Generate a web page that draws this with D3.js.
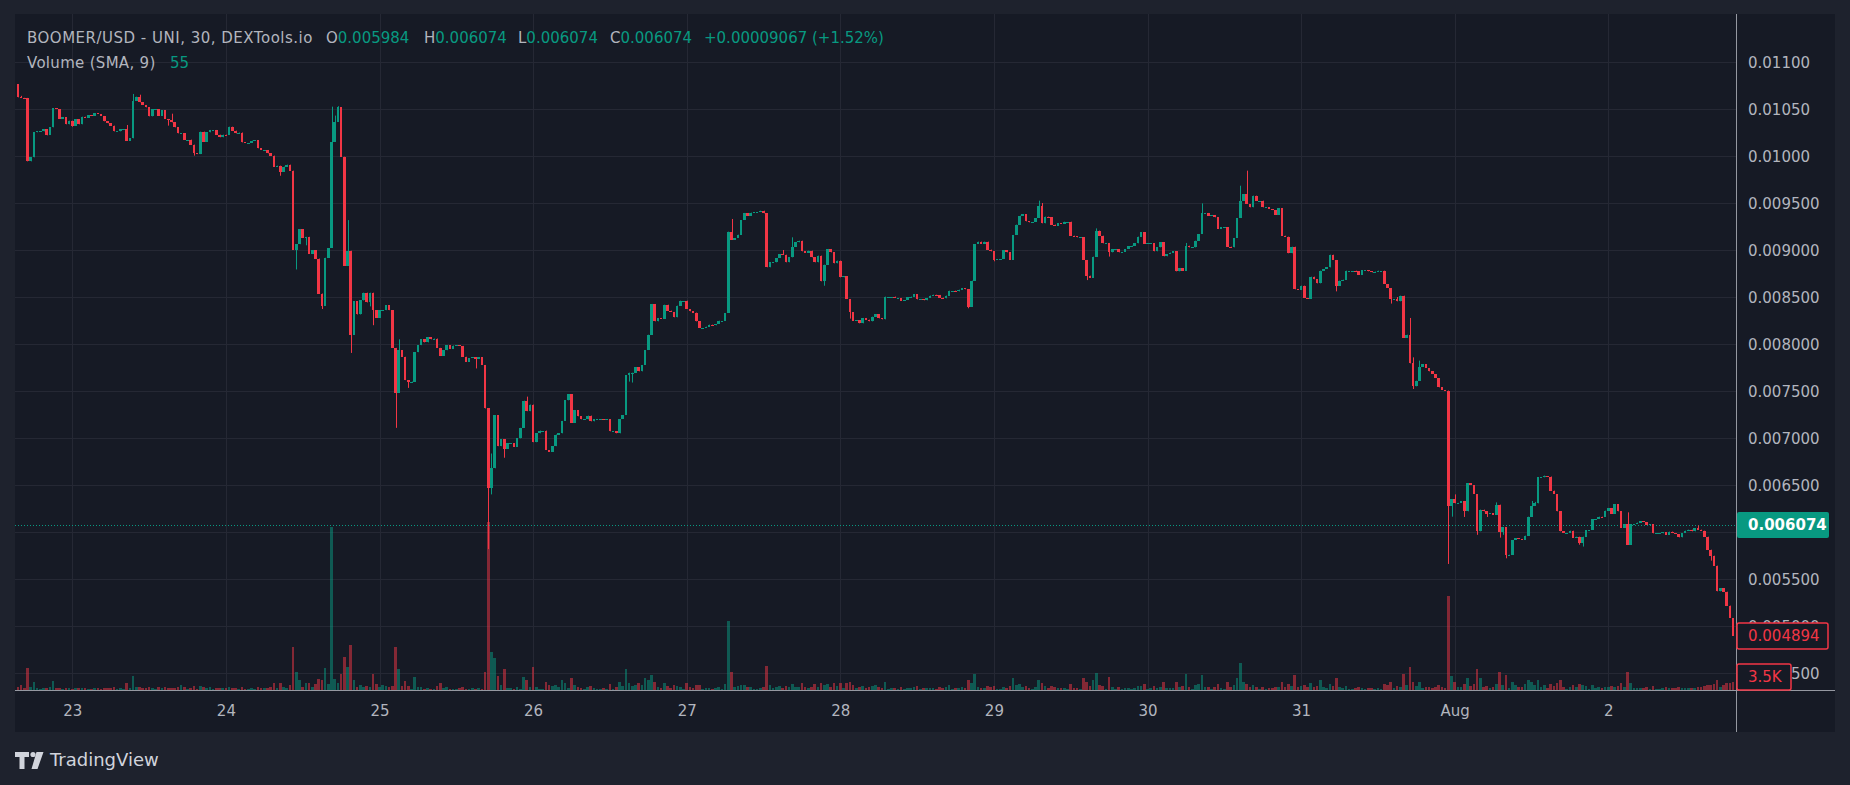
<!DOCTYPE html>
<html><head><meta charset="utf-8">
<script src="https://cdn.jsdelivr.net/npm/d3@7"></script>
<style>html,body{margin:0;padding:0;background:#1e222d;overflow:hidden}text{font-family:"DejaVu Sans",sans-serif}</style>
</head><body><svg id="c" width="1850" height="785"></svg>
<script>
// 30-minute bars, index t counted from 23 Jul 00:00 (first bar t = -17)
const firstBar = -17;
const firstOpenMicro = 10766; // prices in millionths of USD
const closesMicro = [
10624,10620,10618,9943,9986,10252,10262,10262,10284,10227,10305,10507,10500,10394,10411,10337,10376,
// Jul 23
10323,10390,10337,10418,10404,10433,10430,10454,10447,10426,10369,10348,10323,10262,10262,10287,10287,10163,10188,10589,
10631,10571,10543,10518,10422,10500,10500,10429,10489,10394,10383,10358,10305,10241,10241,10174,10174,10121,10028,10020,
10259,10152,10252,10277,10277,10227,10199,10227,
// Jul 24
10223,10312,10270,10241,10250,10145,10142,10142,10163,10170,10082,10064,10064,10028,10004,9887,9897,9833,9887,9908,
9844,9000,9062,9219,9132,9140,8959,9000,8909,8537,8409,8917,9021,10153,10364,10521,9992,8835,8992,8099,
8455,8314,8463,8546,8442,8546,8360,8277,
// Jul 25
8360,8360,8413,8360,7959,7480,7934,7864,7616,7595,7600,7913,7988,8050,8017,8070,8050,8058,7959,7872,
7934,7988,7946,7984,7988,7980,7864,7810,7851,7860,7843,7860,7777,7314,6471,6678,7244,6913,6988,6884,
6942,6942,6905,6996,7108,7397,7285,7356,
// Jul 26
6955,7050,7079,7079,6872,6851,6913,7037,7050,7182,7401,7467,7161,7294,7231,7199,7199,7238,7177,7202,
7202,7202,7195,7199,7071,7071,7050,7202,7245,7670,7695,7695,7752,7709,7777,7936,8099,8426,8241,8277,
8266,8418,8355,8341,8284,8408,8461,8461,
// Jul 27
8372,8348,8334,8241,8170,8170,8184,8206,8199,8213,8248,8248,8330,9195,9110,9128,9163,9319,9394,9362,
9397,9400,9404,9418,9390,8816,8869,8869,8915,8957,8950,8869,8922,9035,9082,9099,8986,8968,8993,8922,
8869,8940,8667,8844,9011,8975,8858,8887,
// Jul 28
8709,8720,8479,8340,8248,8255,8220,8277,8259,8241,8291,8319,8273,8262,8504,8504,8504,8490,8490,8461,
8468,8497,8504,8532,8475,8479,8465,8490,8515,8525,8522,8493,8486,8515,8567,8567,8560,8578,8596,8582,
8397,8674,9064,9089,9064,9089,9004,8986,
// Jul 29
8897,8904,8904,9000,8975,8897,9160,9270,9365,9383,9305,9294,9298,9340,9472,9284,9355,9348,9270,9259,
9287,9277,9301,9301,9152,9145,9135,9135,8894,8727,8702,8929,9206,9152,9071,9075,8975,9011,9011,8975,
8979,9011,9039,9046,9071,9142,9188,9064,
// Jul 30
9071,9071,8986,9028,9082,8933,8957,8972,8986,8773,8808,8780,9046,9028,9028,9099,9170,9390,9394,9366,
9373,9348,9223,9240,9240,9035,9028,9128,9340,9525,9596,9489,9454,9578,9525,9525,9454,9454,9436,9425,
9376,9447,9152,9142,8965,9035,8582,8575,
// Jul 31
8621,8489,8479,8716,8688,8645,8780,8798,8815,8950,8894,8621,8674,8684,8780,8780,8780,8773,8738,8787,
8787,8773,8762,8770,8780,8780,8638,8596,8475,8475,8454,8514,8064,8099,7794,7550,7610,7759,7787,7745,
7709,7681,7638,7539,7511,7505,6280,6351,
// Aug 1
6305,6310,6330,6220,6521,6500,6404,6007,6238,6220,6192,6198,6184,6291,5997,6050,5755,5758,5915,5936,
5926,5915,5961,6163,6280,6305,6582,6582,6592,6590,6440,6404,6220,6007,5989,5989,6014,5936,5950,5880,
5950,6021,6021,6138,6138,6163,6160,6227,
// Aug 2
6255,6192,6298,6220,6043,6085,5865,6085,6085,6100,6117,6106,6078,6085,5986,5986,5986,5996,5968,6004,
5989,5979,5943,5989,6014,6025,6007,6043,6025,6014,5950,5812,5748,5642,5369,5404,5365,5217,5085,4894
];
const wickHighs = [[-16,10640],[17,10330],[19,10660],[21,10652],[31,10450],[81,10525],[82,10430],[83,10530],
[86,9318],[102,8050],[131,6835],[142,7440],[206,9330],[222,9000],[225,9135],[302,9525],[303,9500],[320,9230],
[348,9075],[353,9496],[365,9684],[367,9844],[414,8500],[418,8277],[419,7858],[421,7823],[432,6400],[445,6315],
[456,6330],[457,6320],[460,6600],[486,6209],[508,6070]];
const wickLows = [[-8,10220],[0,10312],[30,10323],[38,10004],[65,9790],[70,8793],[73,9050],[78,8372],[87,7905],
[93,8400],[94,8200],[101,7108],[105,7533],[126,7740],[130,5818],[131,6400],[135,6790],[174,7600],[175,7590],
[235,8620],[243,8270],[280,8380],[288,8880],[317,8680],[324,8930],[395,8560],[412,8430],[419,7521],[430,5660],
[431,6163],[435,6160],[439,5970],[442,6160],[446,5940],[447,5970],[448,5720],[471,5865],[472,5845],[512,5695]];
const volumesK = [
1.2,2.2,0.8,9.5,1.5,3.5,1.0,0.6,0.8,0.9,1.1,3.9,0.7,1.0,0.6,0.9,0.8,
0.6,1.0,0.8,0.9,0.7,0.6,0.5,0.8,0.7,0.6,0.9,0.8,1.0,1.2,0.5,0.7,0.6,3.0,0.8,6.0,1.5,1.2,0.8,0.9,1.4,1.0,0.5,1.1,0.9,1.3,0.7,1.0,0.9,1.2,2.2,1.1,0.5,1.0,1.6,0.6,1.8,1.2,1.0,1.3,0.5,0.9,0.8,1.0,
0.8,1.2,1.0,0.9,0.5,1.5,0.6,0.5,0.7,0.6,1.3,1.0,0.7,1.0,1.4,3.0,0.8,3.1,1.2,0.9,2.0,18.7,7.8,4.3,1.3,3.0,3.0,1.3,2.6,4.8,4.3,9.6,2.6,70.9,4.8,3.0,7.0,14.3,10.0,19.6,4.3,1.3,2.2,1.3,1.7,1.3,7.0,2.6,
1.3,2.2,1.7,1.3,1.7,18.7,9.1,1.7,3.9,1.7,0.4,5.7,1.3,1.3,0.4,0.9,0.4,0.4,1.7,3.0,0.9,1.3,0.4,0.4,0.4,0.9,1.3,0.4,0.4,0.9,0.4,0.9,0.4,7.8,73.0,16.5,13.9,6.1,2.2,9.1,0.9,0.9,0.4,1.3,0.4,5.7,4.3,1.3,
10.0,1.3,0.4,0.4,3.5,2.2,1.7,2.2,1.3,4.3,3.0,0.9,5.2,2.2,1.3,0.9,0.4,1.3,1.7,0.9,0.4,0.4,0.9,0.4,2.6,0.4,1.3,3.5,1.7,9.1,3.0,1.7,2.2,3.0,2.2,5.2,4.3,6.5,3.5,1.3,0.9,3.0,1.7,0.9,2.2,1.7,1.3,0.4,
3.0,1.3,0.9,2.2,2.2,0.4,0.9,0.9,0.4,0.9,1.3,0.4,2.6,30.0,7.8,1.3,1.7,2.2,2.2,1.3,1.3,0.4,0.4,0.9,1.3,10.4,2.2,0.9,1.3,1.7,0.9,1.7,1.3,2.6,1.3,1.3,3.0,1.3,0.9,1.3,2.6,1.3,3.0,2.2,2.6,1.3,3.0,1.7,
3.0,0.9,3.0,3.5,2.2,0.9,1.3,1.7,0.9,1.3,1.7,2.2,1.3,0.9,3.5,0.4,0.9,0.9,0.4,1.3,0.4,0.9,0.9,1.3,1.7,0.4,0.9,0.9,0.9,0.9,0.4,1.3,0.9,1.3,2.2,0.4,0.9,0.9,1.3,0.9,4.3,3.0,7.0,1.3,0.9,0.9,1.7,1.3,
1.7,0.4,0.4,1.3,0.9,1.7,5.2,2.2,2.6,1.3,1.7,0.9,0.4,1.3,4.3,3.0,1.7,0.9,1.7,1.3,0.9,0.9,0.9,0.4,2.6,0.9,0.9,0.4,5.2,3.5,1.7,4.3,7.4,2.2,1.7,0.4,5.7,1.3,0.4,1.3,0.4,0.9,0.9,0.4,0.9,1.7,1.7,2.6,
0.4,0.9,1.7,0.9,1.3,3.5,0.9,0.9,0.9,3.5,1.3,1.7,7.0,1.3,0.4,2.2,2.6,6.5,1.3,1.3,0.4,1.3,2.6,0.9,0.4,3.5,1.3,2.2,5.2,11.7,3.5,2.6,1.3,2.2,1.3,0.4,1.3,0.4,0.9,0.9,1.3,1.3,3.5,1.3,2.6,1.7,6.5,1.3,
1.7,2.2,1.3,3.0,1.3,1.7,4.3,1.3,0.9,2.6,1.7,5.2,1.3,0.9,1.7,0.4,0.4,0.9,1.3,0.9,0.4,0.9,0.9,0.4,0.9,0.4,2.6,2.2,3.5,0.9,1.7,1.3,7.0,2.2,10.0,3.5,1.7,3.5,0.9,1.3,1.3,0.9,1.3,2.2,1.3,0.9,40.9,6.1,
3.5,1.3,1.3,2.6,5.2,1.7,2.6,9.1,5.2,1.3,1.7,0.9,1.3,2.6,7.8,2.2,6.5,0.9,3.5,2.2,1.3,1.3,2.6,4.3,3.5,2.2,4.3,1.3,2.2,0.9,2.6,1.7,3.0,4.3,1.3,0.4,1.3,2.2,1.3,2.6,2.2,1.7,0.4,2.2,0.9,1.3,0.9,1.3,
1.3,1.7,1.3,1.7,3.0,1.3,7.8,3.0,0.9,0.9,0.9,0.9,1.3,0.4,1.7,0.4,0.4,0.9,1.3,0.9,0.9,0.9,1.3,0.9,0.9,0.9,0.9,0.9,1.3,1.3,1.7,2.2,2.2,2.6,4.3,1.3,2.2,3.0,3.0,3.5
];
const dayTicks = [0,48,96,144,192,240,288,336,384,432,480];
const dayLabels = ["23","24","25","26","27","28","29","30","31","Aug","2"];
const priceTicks = [0.0045,0.005,0.0055,0.006,0.0065,0.007,0.0075,0.008,0.0085,0.009,0.0095,0.01,0.0105,0.011];
const priceLabelTicks = [0.0045,0.005,0.0055,0.0065,0.007,0.0075,0.008,0.0085,0.009,0.0095,0.01,0.0105,0.011]; // 0.006 hidden by tag
const markPrice = 0.006074, lastPrice = 0.004894, lastVolumeText = "3.5K";
const legendTitle = "BOOMER/USD - UNI, 30, DEXTools.io";
const legendOHLC = [["O","0.005984"],["H","0.006074"],["L","0.006074"],["C","0.006074"]];
const legendChange = "+0.00009067 (+1.52%)";
const volumeLegend = ["Volume (SMA, 9)","55"];

const UP="#089981", DOWN="#f23645", BG="#161a25", OUTER="#1e222d", GRID="#252834", TXT="#b2b5be";
const L=15, R=1736, T=14, B=690, AX=1835, BOT=732;

const hiMap=new Map(wickHighs), loMap=new Map(wickLows);
const bars = closesMicro.map((c,i)=>{
  const t=firstBar+i;
  const o = i===0 ? firstOpenMicro : closesMicro[i-1];
  const h = Math.max(o,c,hiMap.get(t)||0);
  const l = Math.min(o,c,loMap.has(t)?loMap.get(t):Infinity);
  return {t,o:o/1e6,h:h/1e6,l:l/1e6,c:c/1e6,v:volumesK[i]};
});

const x = d3.scaleLinear().domain([0,480]).range([72.3,72.3+1536]);
const y = d3.scaleLinear().domain([0.0045,0.011]).range([673,62]);
const yv = d3.scaleLinear().domain([0,73]).range([B,B-168]);

const svg=d3.select("#c");
svg.append("rect").attr("width",1850).attr("height",785).attr("fill",OUTER);
svg.append("rect").attr("x",L).attr("y",T).attr("width",AX-L).attr("height",BOT-T).attr("fill",BG);
svg.append("clipPath").attr("id","pane").append("rect").attr("x",L).attr("y",T).attr("width",R-L).attr("height",B-T);

const grid=svg.append("g").attr("clip-path","url(#pane)");
grid.selectAll("line.h").data(priceTicks).join("line")
  .attr("x1",L).attr("x2",R).attr("y1",d=>Math.round(y(d))+0.5).attr("y2",d=>Math.round(y(d))+0.5)
  .attr("stroke",GRID);
grid.selectAll("line.v").data(dayTicks).join("line").attr("class","v")
  .attr("x1",d=>Math.round(x(d))+0.5).attr("x2",d=>Math.round(x(d))+0.5).attr("y1",T).attr("y2",B)
  .attr("stroke",GRID);

const plot=svg.append("g").attr("clip-path","url(#pane)");
plot.append("g").selectAll("rect").data(bars).join("rect")
  .attr("x",d=>x(d.t)-1.25).attr("width",2.5)
  .attr("y",d=>yv(d.v)).attr("height",d=>B-yv(d.v))
  .attr("fill",d=>d.c>=d.o?"rgba(8,153,129,0.5)":"rgba(242,54,69,0.5)")
  .attr("shape-rendering","crispEdges");
plot.append("line").attr("x1",L).attr("x2",R).attr("y1",Math.round(y(markPrice))+0.5).attr("y2",Math.round(y(markPrice))+0.5)
  .attr("stroke",UP).attr("stroke-dasharray","1,2");
plot.append("g").selectAll("line").data(bars).join("line")
  .attr("x1",d=>Math.round(x(d.t))+0.5).attr("x2",d=>Math.round(x(d.t))+0.5)
  .attr("y1",d=>y(d.h)).attr("y2",d=>y(d.l))
  .attr("stroke",d=>d.c>=d.o?UP:DOWN).attr("stroke-width",1);
plot.append("g").selectAll("rect").data(bars).join("rect")
  .attr("x",d=>x(d.t)-1.25).attr("width",2.5)
  .attr("y",d=>y(Math.max(d.o,d.c)))
  .attr("height",d=>Math.max(1,y(Math.min(d.o,d.c))-y(Math.max(d.o,d.c))))
  .attr("fill",d=>d.c>=d.o?UP:DOWN).attr("shape-rendering","crispEdges");

// axes borders
svg.append("line").attr("x1",R+0.5).attr("x2",R+0.5).attr("y1",T).attr("y2",BOT).attr("stroke","#9598a1");
svg.append("line").attr("x1",L).attr("x2",AX).attr("y1",B+0.5).attr("y2",B+0.5).attr("stroke","#9598a1");

// price axis
const pa=svg.append("g").attr("transform",`translate(1748,0)`)
  .call(d3.axisRight(y).tickValues(priceLabelTicks).tickSize(0).tickPadding(0)
    .tickFormat(d=>d>=0.00999?d.toFixed(5):d.toFixed(6)));
pa.select(".domain").remove();
pa.selectAll("text").attr("fill",TXT).attr("font-size",15).attr("font-family","DejaVu Sans").attr("dy","0.35em");

// time axis
const ta=svg.append("g").attr("transform",`translate(0,${B})`)
  .call(d3.axisBottom(x).tickValues(dayTicks).tickSize(0).tickPadding(15).tickFormat((d,i)=>dayLabels[i]));
ta.select(".domain").remove();
ta.selectAll("text").attr("fill",TXT).attr("font-size",15).attr("font-family","DejaVu Sans");

// price labels
function tag(yc, w, fill, stroke, color, txt){
  svg.append("rect").attr("x",R+1).attr("y",yc-13).attr("width",w).attr("height",26).attr("rx",2)
    .attr("fill",fill).attr("stroke",stroke||"none").attr("stroke-width",stroke?1.5:0);
  svg.append("text").attr("x",1748).attr("y",yc).attr("dy","0.35em").attr("fill",color)
    .attr("font-size",15).attr("font-weight",fill===UP?"bold":"normal").text(txt);
}
tag(y(markPrice),92,UP,null,"#ffffff",d3.format(".6f")(markPrice));
tag(y(lastPrice),91,BG,DOWN,DOWN,d3.format(".6f")(lastPrice));
tag(677,54,BG,DOWN,DOWN,lastVolumeText);

// legend
const lg=svg.append("g").attr("font-size",15);
lg.append("text").attr("x",27).attr("y",38).attr("dy","0.35em").attr("fill",TXT)
  .attr("letter-spacing","0.5").text(legendTitle);
const ox=[326,424,518,610];
legendOHLC.forEach(([k,v],i)=>{
  const tx=lg.append("text").attr("x",ox[i]).attr("y",38).attr("dy","0.35em");
  tx.append("tspan").attr("fill",TXT).text(k);
  tx.append("tspan").attr("fill",UP).text(v);
});
lg.append("text").attr("x",704).attr("y",38).attr("dy","0.35em").attr("fill",UP).text(legendChange);
lg.append("text").attr("x",27).attr("y",63).attr("dy","0.35em").attr("fill",TXT).attr("letter-spacing","0.3").text(volumeLegend[0]);
lg.append("text").attr("x",170).attr("y",63).attr("dy","0.35em").attr("fill",UP).text(volumeLegend[1]);

// TradingView logo
const logo=svg.append("g").attr("fill","#d1d4dc");
logo.append("path").attr("d","M15 752h14v5h-4.5v12h-5v-12H15z");
logo.append("circle").attr("cx",33).attr("cy",754.5).attr("r",2.6);
logo.append("path").attr("d","M36.5 752h7l-6 17h-6z");
logo.append("text").attr("x",50).attr("y",760).attr("dy","0.35em").attr("font-size",18).attr("fill","#d1d4dc").text("TradingView");
</script></body></html>
